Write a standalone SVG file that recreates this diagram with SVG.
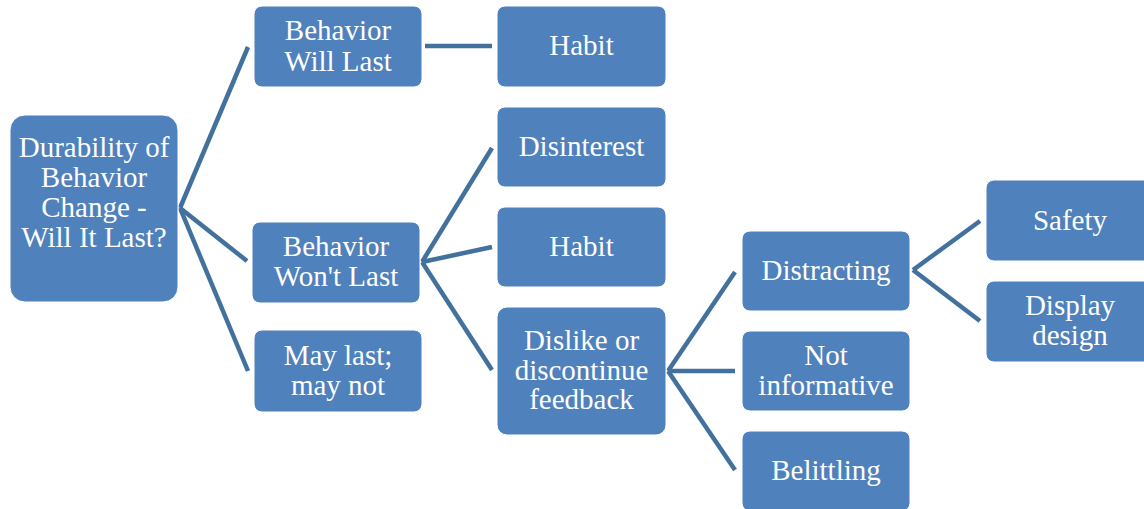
<svg xmlns="http://www.w3.org/2000/svg" width="1144" height="509" viewBox="0 0 1144 509">
<style>
.n rect{fill:#4F81BD;stroke:#FFFFFF;stroke-width:1}
.n text{font-family:"Times New Roman", Times, Tinos, "Liberation Serif", "Noto Serif", "Nimbus Roman", "FreeSerif", "DejaVu Serif", serif;font-size:29px;fill:#FFFFFF;text-anchor:middle}
#connectors line{stroke:#41719C;stroke-width:4.5;fill:none}
</style>
<rect width="1144" height="509" fill="#FFFFFF"/>
<g id="connectors">
<line x1="180" y1="208" x2="248" y2="47"/>
<line x1="180" y1="208" x2="247" y2="261"/>
<line x1="180" y1="208" x2="248" y2="371"/>
<line x1="425" y1="46" x2="492" y2="46"/>
<line x1="422" y1="262" x2="492" y2="148"/>
<line x1="422" y1="262" x2="492" y2="247"/>
<line x1="422" y1="262" x2="492" y2="370"/>
<line x1="668" y1="371" x2="735" y2="272"/>
<line x1="668" y1="371" x2="735" y2="371"/>
<line x1="668" y1="371" x2="735" y2="470"/>
<line x1="913" y1="270" x2="980" y2="221"/>
<line x1="913" y1="270" x2="980" y2="321"/>
</g>
<g id="root" class="n">
<rect x="10" y="115" width="168" height="187" rx="15"/>
<text x="94" y="157">Durability of</text>
<text x="94" y="187">Behavior</text>
<text x="94" y="217">Change -</text>
<text x="94" y="247">Will It Last?</text>
</g>
<g id="will-last" class="n">
<rect x="254" y="6" width="168" height="81" rx="8"/>
<text x="338" y="40">Behavior</text>
<text x="338" y="71">Will Last</text>
</g>
<g id="habit1" class="n">
<rect x="497" y="6" width="169" height="81" rx="8"/>
<text x="581.5" y="55">Habit</text>
</g>
<g id="wont-last" class="n">
<rect x="252" y="222" width="168" height="81" rx="8"/>
<text x="336" y="256">Behavior</text>
<text x="336" y="286">Won't Last</text>
</g>
<g id="may-last" class="n">
<rect x="254" y="330" width="168" height="82" rx="8"/>
<text x="338" y="365">May last;</text>
<text x="338" y="395">may not</text>
</g>
<g id="disinterest" class="n">
<rect x="497" y="107" width="169" height="80" rx="8"/>
<text x="581.5" y="156">Disinterest</text>
</g>
<g id="habit2" class="n">
<rect x="497" y="207" width="169" height="80" rx="8"/>
<text x="581.5" y="256">Habit</text>
</g>
<g id="dislike" class="n">
<rect x="497" y="307" width="169" height="128" rx="10"/>
<text x="581.5" y="350">Dislike or</text>
<text x="581.5" y="380">discontinue</text>
<text x="581.5" y="409">feedback</text>
</g>
<g id="distracting" class="n">
<rect x="742" y="231" width="168" height="80" rx="8"/>
<text x="826" y="280">Distracting</text>
</g>
<g id="not-informative" class="n">
<rect x="742" y="331" width="168" height="80" rx="8"/>
<text x="826" y="365">Not</text>
<text x="826" y="395">informative</text>
</g>
<g id="belittling" class="n">
<rect x="742" y="431" width="168" height="80" rx="8"/>
<text x="826" y="480">Belittling</text>
</g>
<g id="safety" class="n">
<rect x="986" y="180" width="168" height="81" rx="8"/>
<text x="1070" y="230">Safety</text>
</g>
<g id="display-design" class="n">
<rect x="986" y="281" width="168" height="81" rx="8"/>
<text x="1070" y="315">Display</text>
<text x="1070" y="345">design</text>
</g>
</svg>
